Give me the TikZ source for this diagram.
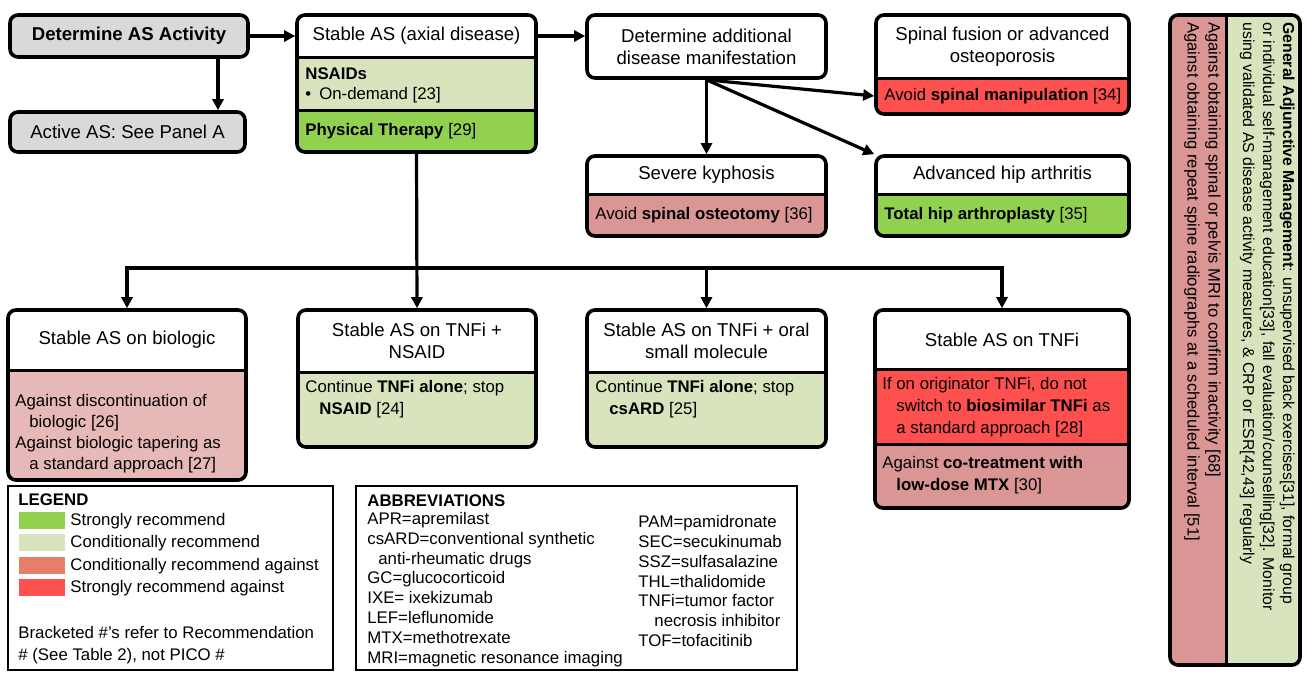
\documentclass[tikz,border=0pt]{standalone}
\usepackage{fontspec}
\setmainfont{Liberation Sans}
\usetikzlibrary{arrows.meta, fit}

\definecolor{strongfor}{HTML}{92D050}
\definecolor{condfor}{HTML}{D7E4BD}
\definecolor{condagainst}{HTML}{D99694}
\definecolor{lightagainst}{HTML}{E6B9B8}
\definecolor{swatchagainst}{HTML}{E67E6B}
\definecolor{strongagainst}{HTML}{FF5050}
\definecolor{grayfill}{HTML}{D9D9D9}

\tikzset{
	box/.style={draw, line width=1.8pt, rounded corners=4pt, inner sep=0pt},
	panel/.style={draw, line width=1.2pt, inner sep=0pt},
	sep/.style={line width=1.5pt},
	arrow/.style={line width=1.6pt, -{Triangle[length=5.5pt, width=5.5pt]}},
	title/.style={inner sep=0pt, align=center, font=\fontsize{9.3}{11}\selectfont},
	body/.style={inner sep=0pt, align=left, anchor=west, font=\fontsize{8.4}{11}\selectfont},
	abbr/.style={inner sep=0pt, align=left, anchor=west, font=\fontsize{8.4}{9.9}\selectfont},
	side/.style={inner sep=0pt, align=left, anchor=north west, rotate=-90, font=\fontsize{7.9}{10}\selectfont},
	swatch/.style={minimum width=23pt, minimum height=8.5pt, inner sep=0pt, anchor=north west}
}

\begin{document}
\begin{tikzpicture}[x = 0.5pt, y = -0.5pt]
	\useasboundingbox (0,0) rectangle (1306,677);

	% Bands
	\fill[condfor] (297,57) rectangle (536,110);
	\fill[strongfor] (297,110) [rounded corners=4pt] -- (297,152) -- (536,152) [sharp corners] -- (536,110) -- cycle;
	\fill[strongagainst] (876,78) [rounded corners=4pt] -- (876,114) -- (1129,114) [sharp corners] -- (1129,78) -- cycle;
	\fill[condagainst] (587,194) [rounded corners=4pt] -- (587,236) -- (826,236) [sharp corners] -- (826,194) -- cycle;
	\fill[strongfor] (876,194) [rounded corners=4pt] -- (876,236) -- (1129,236) [sharp corners] -- (1129,194) -- cycle;
	\fill[lightagainst] (8,370) [rounded corners=4pt] -- (8,480) -- (246,480) [sharp corners] -- (246,370) -- cycle;
	\fill[condfor] (298,372) [rounded corners=4pt] -- (298,447) -- (536,447) [sharp corners] -- (536,372) -- cycle;
	\fill[condfor] (587,372) [rounded corners=4pt] -- (587,447) -- (826,447) [sharp corners] -- (826,372) -- cycle;
	\fill[strongagainst] (875,369) rectangle (1129,444);
	\fill[condagainst] (875,444) [rounded corners=4pt] -- (875,508) -- (1129,508) [sharp corners] -- (1129,444) -- cycle;
	\fill[condagainst] (1226,15) [rounded corners=4pt] -- (1170,15) -- (1170,665) [sharp corners] -- (1226,665) -- cycle;
	\fill[condfor] (1226,15) [rounded corners=4pt] -- (1300,15) -- (1300,665) [sharp corners] -- (1226,665) -- cycle;

	% Separators
	\draw[sep] (297,57) -- (536,57);
	\draw[sep] (297,110) -- (536,110);
	\draw[sep] (876,78) -- (1129,78);
	\draw[sep] (587,194) -- (826,194);
	\draw[sep] (876,194) -- (1129,194);
	\draw[sep] (8,370) -- (246,370);
	\draw[sep] (298,372) -- (536,372);
	\draw[sep] (587,372) -- (826,372);
	\draw[sep] (875,369) -- (1129,369);
	\draw[sep] (875,444) -- (1129,444);
	\draw[sep] (1226,15) -- (1226,665);

	% Boxes
	\node[box, fill=grayfill, fit={(10,15) (248,57)}] (det) {};
	\node[box, fill=grayfill, fit={(10,112) (245,152)}] (active) {};
	\node[box, fit={(297,15) (536,152)}] (stable) {};
	\node[box, fit={(587,15) (826,78)}] (addl) {};
	\node[box, fit={(876,15) (1129,114)}] (fusion) {};
	\node[box, fit={(587,156) (826,236)}] (kyph) {};
	\node[box, fit={(876,156) (1129,236)}] (hip) {};
	\node[box, fit={(8,310) (246,480)}] (bio) {};
	\node[box, fit={(298,310) (536,447)}] (nsaid) {};
	\node[box, fit={(587,310) (826,447)}] (oral) {};
	\node[box, fit={(875,310) (1129,508)}] (tnfi) {};
	\node[box, fit={(1170,15) (1300,665)}] (general) {};
	\node[panel, fit={(8,486) (333,670)}] (legend) {};
	\node[panel, fit={(356,486) (797,670)}] (abbrev) {};

	% Texts
	\node[title] (det-t) at (129,36) {\bfseries Determine AS Activity};
	\node[title] (active-t) at (127.5,132) {Active AS: See Panel A};
	\node[title] (stable-t) at (416.5,36) {Stable AS (axial disease)};
	\node[body, font=\fontsize{8.4}{10}\selectfont] (stable-b1) at (305,85) {\textbf{NSAIDs}\\\textbullet\hspace{4pt}On-demand [23]};
	\node[body] (stable-b2) at (305,131) {\textbf{Physical Therapy} [29]};
	\node[title] (addl-t) at (706.5,47) {Determine additional\\disease manifestation};
	\node[title] (fusion-t) at (1002.5,47) {Spinal fusion or advanced\\osteoporosis};
	\node[body] (fusion-b) at (884,96) {Avoid \textbf{spinal manipulation} [34]};
	\node[title] (kyph-t) at (706.5,175) {Severe kyphosis};
	\node[body] (kyph-b) at (595,215) {Avoid \textbf{spinal osteotomy} [36]};
	\node[title] (hip-t) at (1002.5,175) {Advanced hip arthritis};
	\node[body] (hip-b) at (884,215) {\textbf{Total hip arthroplasty} [35]};
	\node[title] (bio-t) at (127,340) {Stable AS on biologic};
	\node[body, font=\fontsize{8.4}{10.5}\selectfont] (bio-b) at (15,434) {Against discontinuation of\\\hspace*{7pt}biologic [26]\\Against biologic tapering as\\\hspace*{7pt}a standard approach [27]};
	\node[title] (nsaid-t) at (417,341) {Stable AS on TNFi +\\NSAID};
	\node[body] (nsaid-b) at (305,399) {Continue \textbf{TNFi alone}; stop\\\hspace*{7pt}\textbf{NSAID} [24]};
	\node[title] (oral-t) at (706.5,341) {Stable AS on TNFi + oral\\small molecule};
	\node[body] (oral-b) at (595,399) {Continue \textbf{TNFi alone}; stop\\\hspace*{7pt}\textbf{csARD} [25]};
	\node[title] (tnfi-t) at (1002,340) {Stable AS on TNFi};
	\node[body] (tnfi-b1) at (882,407) {If on originator TNFi, do not\\\hspace*{7pt}switch to \textbf{biosimilar TNFi} as\\\hspace*{7pt}a standard approach [28]};
	\node[body] (tnfi-b2) at (882,475) {Against \textbf{co-treatment with}\\\hspace*{7pt}\textbf{low-dose MTX} [30]};
	\node[side] (general-g) at (1295,22) {\textbf{General Adjunctive Management}: unsupervised back exercises[31], formal group\\or individual self-management education[33], fall evaluation/counselling[32]. Monitor\\using validated AS disease activity measures, \& CRP or ESR[42,43] regularly};
	\node[side, font=\fontsize{8.3}{10.5}\selectfont] (general-p) at (1221,22) {Against obtaining spinal or pelvis MRI to confirm inactivity [68]\\Against obtaining repeat spine radiographs at a scheduled interval [51]};

	% Legend
	\node[body] (legend-t) at (18,500) {\textbf{LEGEND}};
	\node[swatch, fill=strongfor] (sw1) at (19,512) {};
	\node[swatch, fill=condfor] (sw2) at (19,534) {};
	\node[swatch, fill=swatchagainst] (sw3) at (19,557) {};
	\node[swatch, fill=strongagainst] (sw4) at (19,579) {};
	\node[body] (lg1) at (70,521) {Strongly recommend};
	\node[body] (lg2) at (70,543) {Conditionally recommend};
	\node[body] (lg3) at (70,566) {Conditionally recommend against};
	\node[body] (lg4) at (70,588) {Strongly recommend against};
	\node[body] (lg-note) at (18,645) {Bracketed \#'s refer to Recommendation\\\# (See Table 2), not PICO \#};

	% Abbreviations
	\node[body] (abbrev-t) at (367,501) {\textbf{ABBREVIATIONS}};
	\node[abbr] (abbrev-l) at (367,589.5) {APR=apremilast\\csARD=conventional synthetic\\\hspace*{5.5pt}anti-rheumatic drugs\\GC=glucocorticoid\\IXE= ixekizumab\\LEF=leflunomide\\MTX=methotrexate\\MRI=magnetic resonance imaging};
	\node[abbr] (abbrev-r) at (638,581) {PAM=pamidronate\\SEC=secukinumab\\SSZ=sulfasalazine\\THL=thalidomide\\TNFi=tumor factor\\\hspace*{8pt}necrosis inhibitor\\TOF=tofacitinib};

	% Edges
	\coordinate (det-out) at ([xshift=44.5pt]det.south);
	\coordinate (split) at (420,268);
	\draw[arrow] (det-out) -- (det-out |- active.north);
	\draw[arrow] (det.east) -- (det.east -| stable.west);
	\draw[arrow] (stable-t -| stable.east) -- (stable-t -| addl.west);
	\draw[arrow] (addl.south) -- (kyph.north);
	\draw[arrow] (addl.south) -- (fusion.west |- fusion-b);
	\draw[arrow] (addl.south) -- (hip.north west);
	\draw[arrow] (stable.south) -- (nsaid.north);
	\draw[arrow] (nsaid.north |- split) -| (bio.north);
	\draw[arrow] (nsaid.north |- split) -| (tnfi.north);
	\draw[arrow] (oral.north |- split) -- (oral.north);
\end{tikzpicture}
\end{document}
